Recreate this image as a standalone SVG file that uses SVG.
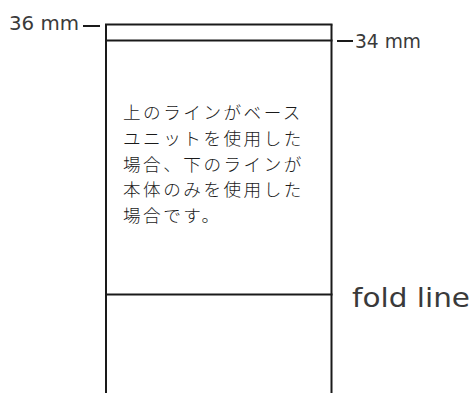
<svg xmlns="http://www.w3.org/2000/svg" width="473" height="393" viewBox="0 0 473 393">
  <style>
    .edge { stroke: #1a1a1a; stroke-width: 2; fill: none; }
    .lbl { font-family: "DejaVu Sans", "Liberation Sans", sans-serif; fill: #3a3a3a; }
    .jp { font-family: "Noto Sans CJK JP", "Noto Sans CJK SC", sans-serif; font-size: 17.6px; font-weight: 300; fill: #1a1a1a; letter-spacing: 2.5px; }
  </style>
  <rect width="473" height="393" fill="#ffffff"/>
  <g id="connectors">
    <line class="edge" x1="106" y1="24.5" x2="106" y2="393"/>
    <line class="edge" x1="331.5" y1="24.5" x2="331.5" y2="393"/>
    <line class="edge" x1="105" y1="24.5" x2="332.5" y2="24.5"/>
    <line class="edge" x1="105" y1="40.5" x2="332.5" y2="40.5"/>
    <line class="edge" x1="105" y1="294.5" x2="332.5" y2="294.5"/>
    <line class="edge" x1="83" y1="26" x2="100" y2="26" stroke="#444"/>
    <line class="edge" x1="337" y1="41" x2="353" y2="41" stroke="#444"/>
  </g>
  <g id="label-36">
    <text class="lbl" x="9" y="30" font-size="20" textLength="70" lengthAdjust="spacingAndGlyphs">36 mm</text>
  </g>
  <g id="label-34">
    <text class="lbl" x="355" y="48" font-size="20" textLength="66" lengthAdjust="spacingAndGlyphs">34 mm</text>
  </g>
  <g id="note">
    <text class="jp" x="123" y="119"><tspan x="123" y="119">上のラインがベース</tspan><tspan x="123" y="144.8">ユニットを使用した</tspan><tspan x="123" y="170.6">場合、下のラインが</tspan><tspan x="123" y="196.4">本体のみを使用した</tspan><tspan x="123" y="222.2">場合です。</tspan></text>
  </g>
  <g id="fold-label">
    <text class="lbl" x="352" y="306.5" font-size="27" textLength="118" lengthAdjust="spacingAndGlyphs">fold line</text>
  </g>
</svg>
